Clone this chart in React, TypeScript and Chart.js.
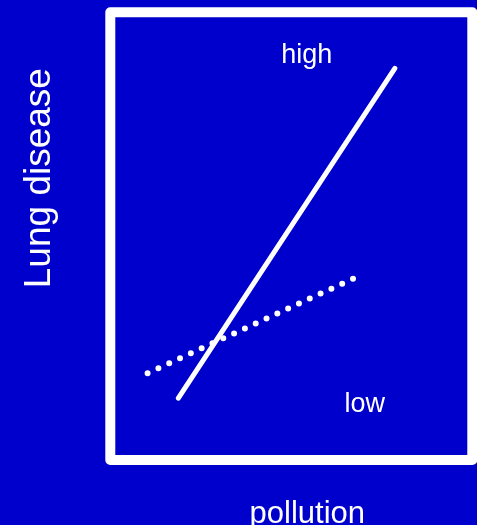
import React, { useEffect, useRef } from "react";
import { Chart, registerables } from "chart.js";

Chart.register(...registerables);

// Data (arbitrary units, 0–100 on both axes)
const solidX = [18.8, 78.6];
const solidY = [13.8, 87.5];
const dottedX = [10.3, 67.6];
const dottedY = [19.4, 40.7];
const labelTexts = ["high", "low"];
const labelX = [54.3, 70.3];
const labelY = [88.7, 10.65];
const xTitle = "pollution";
const yTitle = "Lung disease";

const BG = "#0000CC";
const FONT = "'Liberation Sans', Arial, sans-serif";

export default function App() {
  const ref = useRef<HTMLCanvasElement | null>(null);

  useEffect(() => {
    document.body.style.margin = "0";
    document.body.style.background = BG;
    const canvas = ref.current;
    if (!canvas) return;

    const overlay = {
      id: "overlay",
      beforeDraw(chart: any) {
        const { ctx } = chart;
        ctx.save();
        ctx.fillStyle = BG;
        ctx.fillRect(0, 0, chart.width, chart.height);
        ctx.restore();
      },
      afterDraw(chart: any) {
        const { ctx, chartArea, scales } = chart;
        const { left, top, right, bottom } = chartArea;
        ctx.save();
        // box
        ctx.strokeStyle = "#ffffff";
        ctx.lineWidth = 10;
        ctx.lineJoin = "round";
        ctx.strokeRect(left, top, right - left, bottom - top);
        // in-plot labels
        ctx.fillStyle = "#ffffff";
        ctx.textAlign = "center";
        ctx.textBaseline = "alphabetic";
        ctx.font = `27px ${FONT}`;
        labelTexts.forEach((t, i) => {
          ctx.fillText(t, scales.x.getPixelForValue(labelX[i]), scales.y.getPixelForValue(labelY[i]));
        });
        // x title
        ctx.font = `31px ${FONT}`;
        ctx.fillText(xTitle, (left + right) / 2 + 16, bottom + 63);
        // y title
        ctx.font = `37px ${FONT}`;
        ctx.translate(left - 60, (top + bottom) / 2 - 58);
        ctx.rotate(-Math.PI / 2);
        ctx.fillText(yTitle, 0, 0);
        ctx.restore();
      },
    };

    const chart = new Chart(canvas, {
      type: "line",
      data: {
        datasets: [
          {
            data: solidX.map((x, i) => ({ x, y: solidY[i] })),
            borderColor: "#ffffff",
            borderWidth: 5,
            borderCapStyle: "round",
            pointRadius: 0,
            fill: false,
          },
          {
            data: dottedX.map((x, i) => ({ x, y: dottedY[i] })),
            borderColor: "#ffffff",
            borderWidth: 6,
            borderCapStyle: "round",
            borderDash: [0, 11.9],
            pointRadius: 0,
            fill: false,
          },
        ],
      },
      options: {
        animation: false,
        responsive: false,
        layout: { padding: { left: 110.3, top: 12.3, right: 4.7, bottom: 65 } },
        plugins: { legend: { display: false }, tooltip: { enabled: false }, title: { display: false } },
        scales: {
          x: { type: "linear", min: 0, max: 100, display: false },
          y: { type: "linear", min: 0, max: 100, display: false },
        },
      },
      plugins: [overlay],
    });
    return () => chart.destroy();
  }, []);

  return (
    <div style={{ width: 477, height: 525, background: BG }}>
      <canvas ref={ref} width={477} height={525} style={{ display: "block" }} />
    </div>
  );
}
